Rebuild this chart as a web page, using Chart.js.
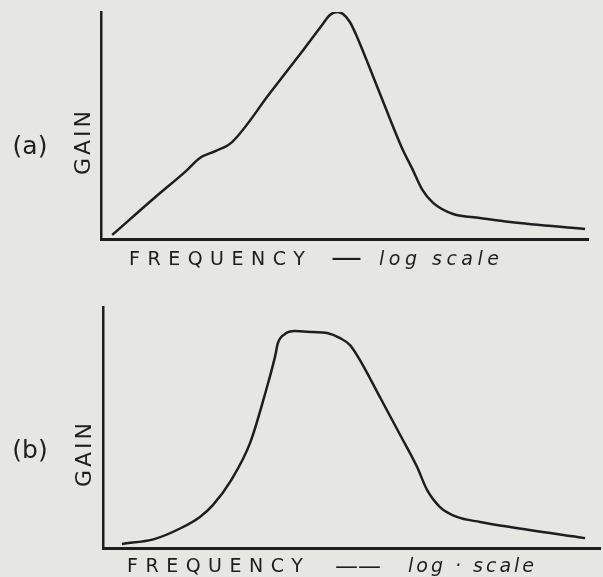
<!DOCTYPE html>
<html>
<head>
<meta charset="utf-8">
<script src="https://cdn.jsdelivr.net/npm/chart.js@4.4.1/dist/chart.umd.min.js"></script>
<style>
html, body { margin: 0; padding: 0; background: #e6e6e2; }
#wrap { position: relative; width: 603px; height: 577px; }
canvas { position: absolute; left: 0; }
</style>
</head>
<body>
<div id="wrap">
  <canvas id="chartA" width="603" height="290" style="top:0"></canvas>
  <canvas id="chartB" width="603" height="287" style="top:290px"></canvas>
</div>
<script>
// position along the log-frequency axis (0 = left end, 100 = right end) and gain (0-100)
var freqA = [2.3, 11.3, 17.5, 20.3, 23.6, 26.9, 34.7, 40.9, 45.4, 47.0, 48.5, 49.7, 51.1, 52.4, 57.3, 61.8, 63.9, 65.9, 68.2, 72.3, 77.8, 84.0, 99.4];
var gainA = [1.8, 18.7, 30.0, 35.7, 38.8, 42.7, 64.3, 81.5, 94.3, 98.7, 100, 99.1, 95.6, 89.9, 63.9, 40.1, 31.0, 22.0, 15.9, 11.0, 9.3, 7.5, 4.4];

var freqB = [3.8, 10.3, 15.7, 19.5, 22.1, 25.8, 29.6, 33.0, 34.6, 35.2, 36.6, 38.6, 42.3, 45.1, 47.7, 49.7, 51.7, 55.7, 59.8, 63.2, 65.2, 67.8, 71.2, 75.9, 81.9, 97.0];
var gainB = [1.7, 3.7, 8.3, 12.9, 17.8, 28.2, 43.6, 66.8, 79.3, 85.1, 88.8, 90.0, 89.6, 89.2, 87.1, 84.2, 78.0, 62.7, 46.9, 33.6, 24.1, 17.0, 12.9, 10.8, 8.7, 4.1];

var yTitle = 'GAIN';
var xTitle = 'FREQUENCY';
var xUnitsA = 'log scale';
var xUnitsB = 'log \u00b7 scale';

var ink = '#1e1e1e';

// draws the panel letter and the hand-lettered axis captions
var captions = {
    id: 'captions',
    afterDraw: function (chart, args, o) {
        var ctx = chart.ctx;
        ctx.save();
        ctx.fillStyle = ink;
        ctx.textBaseline = 'middle';
        ctx.textAlign = 'center';
        ctx.font = '25px "DejaVu Sans"';
        ctx.fillText(o.tag, o.tagX, o.tagY);

        ctx.save();
        ctx.translate(o.gainX, o.gainY);
        ctx.rotate(-Math.PI / 2);
        ctx.font = '22px "DejaVu Sans"';
        ctx.letterSpacing = '3px';
        ctx.fillText(yTitle, 1.5, 0);
        ctx.restore();

        ctx.textBaseline = 'alphabetic';
        ctx.textAlign = 'left';
        ctx.font = '19px "DejaVu Sans"';
        ctx.letterSpacing = '7.5px';
        ctx.fillText(xTitle, o.capX, o.capY);
        ctx.letterSpacing = '0px';
        ctx.font = o.dashFont;
        ctx.fillText(o.dash, o.dashX, o.capY + 2);
        ctx.font = 'oblique 19px "DejaVu Sans"';
        ctx.letterSpacing = o.unitsSpacing;
        ctx.fillText(o.units, o.unitsX, o.capY);
        ctx.restore();
    }
};

function makeChart(id, freq, gain, pad, labels) {
    var pts = freq.map(function (f, i) { return { x: f, y: gain[i] }; });
    return new Chart(document.getElementById(id).getContext('2d'), {
        type: 'line',
        data: {
            datasets: [{
                data: pts,
                borderColor: ink,
                borderWidth: 2.5,
                pointRadius: 0,
                cubicInterpolationMode: 'monotone',
                fill: false
            }]
        },
        options: {
            responsive: false,
            animation: false,
            layout: { padding: pad },
            plugins: {
                legend: { display: false },
                tooltip: { enabled: false },
                captions: labels
            },
            scales: {
                x: {
                    type: 'linear', min: 0, max: 100,
                    ticks: { display: false },
                    grid: { display: false, drawTicks: false },
                    border: { display: true, color: ink, width: 3 }
                },
                y: {
                    min: 0, max: 100,
                    ticks: { display: false },
                    grid: { display: false, drawTicks: false },
                    border: { display: true, color: ink, width: 2.5 }
                }
            }
        },
        plugins: [captions]
    });
}

makeChart('chartA', freqA, gainA, { left: 101, top: 12, right: 15, bottom: 51 }, {
    tag: '(a)', tagX: 30, tagY: 147,
    gainX: 84, gainY: 143,
    capX: 129, capY: 265,
    dash: '\u2014', dashX: 331, dashFont: '31px "DejaVu Sans"',
    units: xUnitsA, unitsX: 379, unitsSpacing: '4.5px'
});

makeChart('chartB', freqB, gainB, { left: 103, top: 17, right: 3, bottom: 29 }, {
    tag: '(b)', tagX: 30, tagY: 161,
    gainX: 85, gainY: 165,
    capX: 127, capY: 282,
    dash: '\u2014\u2014', dashX: 335, dashFont: '23px "DejaVu Sans"',
    units: xUnitsB, unitsX: 408, unitsSpacing: '3px'
});
</script>
</body>
</html>
